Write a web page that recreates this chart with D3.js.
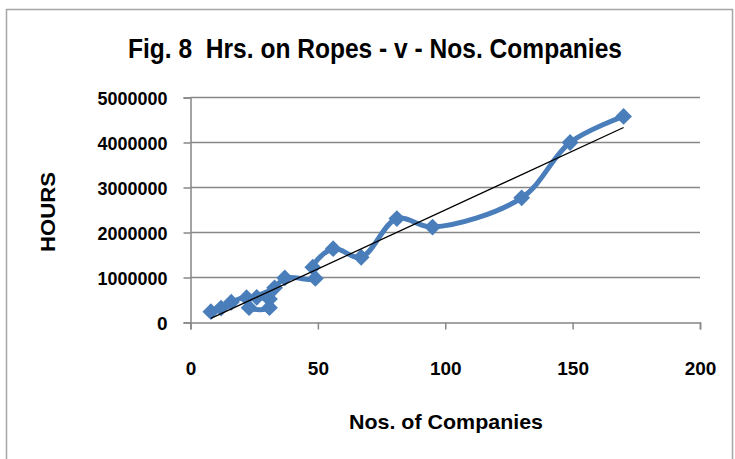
<!DOCTYPE html>
<html>
<head>
<meta charset="utf-8">
<script src="https://cdn.jsdelivr.net/npm/d3@7"></script>
<style>
  body { margin: 0; background: #fff; }
  svg { display: block; }
  text { font-family: "Liberation Sans", "DejaVu Sans", sans-serif; font-weight: bold; fill: #000; }
</style>
</head>
<body>
<svg id="chart" width="735" height="459"></svg>
<script>
// Data
const companies = [8, 12, 16, 22, 23, 31, 31, 26, 33, 37, 49, 48, 56, 67, 81, 95, 130, 149, 170];
const hours = [240000, 320000, 450000, 550000, 330000, 330000, 520000, 560000, 770000, 990000, 980000, 1230000, 1640000, 1450000, 2310000, 2120000, 2770000, 4000000, 4580000];
const xTicks = [0, 50, 100, 150, 200];
const yTicks = [0, 1000000, 2000000, 3000000, 4000000, 5000000];
const title = "Fig. 8  Hrs. on Ropes - v - Nos. Companies";
const xTitle = "Nos. of Companies";
const yTitle = "HOURS";

const svg = d3.select("#chart");
const pLeft = 190.5, pRight = 700, pTop = 97.5, pBottom = 322.5;

// outer frame
svg.append("rect").attr("x", 6.5).attr("y", 9.5).attr("width", 726).attr("height", 470)
  .attr("fill", "none").attr("stroke", "#a6a6a6").attr("stroke-width", 1.5);

const x = d3.scaleLinear().domain([0, 200]).range([pLeft, pRight]);
const y = d3.scaleLinear().domain([0, 5000000]).range([pBottom, pTop]);

// gridlines
svg.append("g").selectAll("line").data(yTicks.filter(d => d > 0)).join("line")
  .attr("x1", pLeft).attr("x2", pRight)
  .attr("y1", d => y(d)).attr("y2", d => y(d))
  .attr("stroke", "#878787").attr("stroke-width", 1.5);

const tickFont = (sel, size) => sel.style("font-size", size + "px").style("font-family", "Liberation Sans, sans-serif").style("font-weight", "bold");

// y axis
const yAxis = svg.append("g").attr("transform", `translate(${pLeft},0)`)
  .call(d3.axisLeft(y).tickValues(yTicks).tickFormat(d3.format("d")).tickSize(7).tickPadding(16));
yAxis.select(".domain").attr("stroke", "#878787").attr("stroke-width", 1.5);
yAxis.selectAll(".tick line").attr("stroke", "#878787").attr("stroke-width", 1.5);
yAxis.selectAll(".tick text").call(tickFont, 19).attr("dy", "0.36em")
  .attr("textLength", d => d === 0 ? null : 70).attr("lengthAdjust", "spacingAndGlyphs");

// x axis
const xAxis = svg.append("g").attr("transform", `translate(0,${pBottom})`)
  .call(d3.axisBottom(x).tickValues(xTicks).tickSize(7).tickPadding(32));
xAxis.select(".domain").attr("stroke", "#878787").attr("stroke-width", 1.5);
xAxis.selectAll(".tick line").attr("stroke", "#878787").attr("stroke-width", 1.5);
xAxis.selectAll(".tick text").call(tickFont, 19);

// data line (smoothed)
const pts = companies.map((c, i) => [c, hours[i]]);
const line = d3.line().x(d => x(d[0])).y(d => y(d[1])).curve(d3.curveCatmullRom.alpha(0.5));
svg.append("path").datum(pts).attr("d", line)
  .attr("fill", "none").attr("stroke", "#4a7ebb").attr("stroke-width", 5)
  .attr("stroke-linejoin", "round").attr("stroke-linecap", "round");

// markers
svg.append("g").selectAll("path").data(pts).join("path")
  .attr("d", d3.symbol(d3.symbolDiamond2, 180))
  .attr("transform", d => `translate(${x(d[0])},${y(d[1])})`)
  .attr("fill", "#4a7ebb");

// linear trendline (least squares)
const mx = d3.mean(companies), my = d3.mean(hours);
const sxy = d3.sum(companies, (c, i) => (c - mx) * (hours[i] - my));
const sxx = d3.sum(companies, c => (c - mx) ** 2);
const slope = sxy / sxx, icpt = my - slope * mx;
const [x0, x1] = d3.extent(companies);
svg.append("line")
  .attr("x1", x(x0)).attr("y1", y(icpt + slope * x0))
  .attr("x2", x(x1)).attr("y2", y(icpt + slope * x1))
  .attr("stroke", "#000").attr("stroke-width", 1.3);

// titles
svg.append("text").attr("x", 375).attr("y", 58).attr("text-anchor", "middle")
  .style("white-space", "pre").attr("xml:space", "preserve")
  .style("font-size", "27px").attr("textLength", 494).attr("lengthAdjust", "spacingAndGlyphs").text(title);
svg.append("text").attr("x", 446).attr("y", 429).attr("text-anchor", "middle")
  .style("font-size", "21px").attr("textLength", 194).attr("lengthAdjust", "spacingAndGlyphs").text(xTitle);
svg.append("text").attr("transform", "translate(55,212) rotate(-90)").attr("text-anchor", "middle")
  .style("font-size", "20px").attr("textLength", 80).attr("lengthAdjust", "spacingAndGlyphs").text(yTitle);
</script>
</body>
</html>
